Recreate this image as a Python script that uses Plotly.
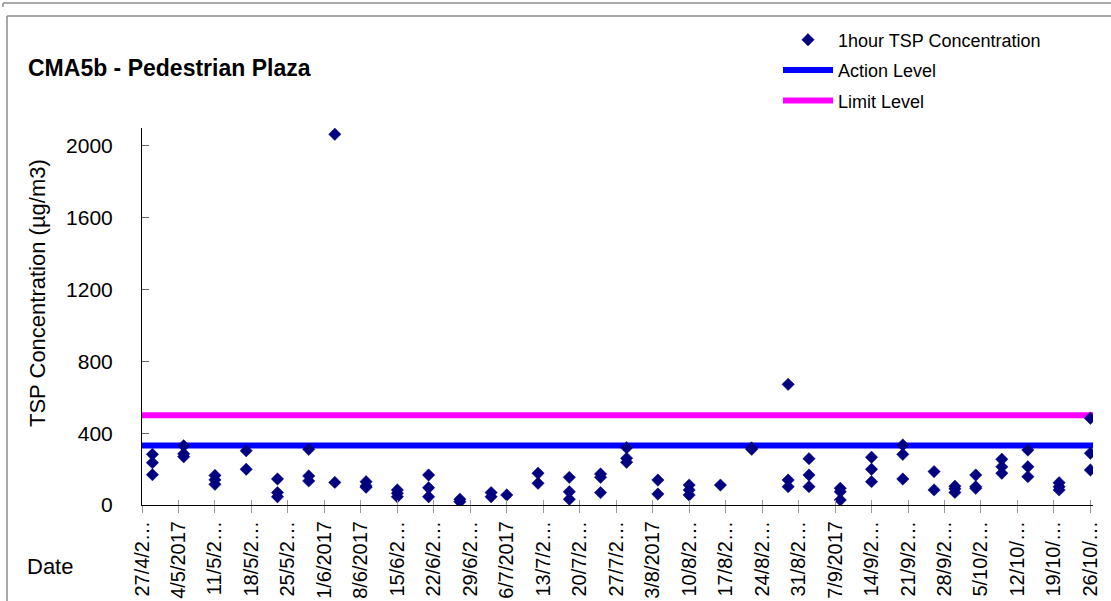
import plotly.graph_objects as go

# ---------------- data ----------------
visit_dates = [
    "2017-04-29", "2017-05-05", "2017-05-11", "2017-05-17", "2017-05-23",
    "2017-05-29", "2017-06-03", "2017-06-09", "2017-06-15", "2017-06-21",
    "2017-06-27", "2017-07-03", "2017-07-06", "2017-07-12", "2017-07-18",
    "2017-07-24", "2017-07-29", "2017-08-04", "2017-08-10", "2017-08-16",
    "2017-08-22", "2017-08-29", "2017-09-02", "2017-09-08", "2017-09-14",
    "2017-09-20", "2017-09-26", "2017-09-30", "2017-10-04", "2017-10-09",
    "2017-10-14", "2017-10-20", "2017-10-26",
]
readings = [
    [282, 236, 169], [330, 285, 269], [165, 140, 115], [302, 199], [145, 69, 46],
    [310, 162, 134], [2065, 126], [130, 106, 99], [84, 65, 46], [167, 96, 46],
    [32, 18], [69, 46], [56], [177, 121], [154, 74, 32],
    [173, 154, 69], [319, 260, 238], [139, 61], [111, 84, 56], [111],
    [318, 310], [672, 139, 102], [258, 167, 102], [93, 74, 28], [266, 199, 130],
    [334, 282, 145], [186, 84], [105, 90, 70], [167, 102, 93], [255, 213, 177],
    [306, 213, 158], [124, 102, 84], [483, 288, 195],
]
action_level = 331
limit_level = 500
level_dates = ["2017-04-27", "2017-10-26 12:00"]

tick_dates = [
    "2017-04-27", "2017-05-04", "2017-05-11", "2017-05-18", "2017-05-25",
    "2017-06-01", "2017-06-08", "2017-06-15", "2017-06-22", "2017-06-29",
    "2017-07-06", "2017-07-13", "2017-07-20", "2017-07-27", "2017-08-03",
    "2017-08-10", "2017-08-17", "2017-08-24", "2017-08-31", "2017-09-07",
    "2017-09-14", "2017-09-21", "2017-09-28", "2017-10-05", "2017-10-12",
    "2017-10-19", "2017-10-26",
]
tick_labels = [
    "27/4/2…", "4/5/2017", "11/5/2…", "18/5/2…", "25/5/2…",
    "1/6/2017", "8/6/2017", "15/6/2…", "22/6/2…", "29/6/2…",
    "6/7/2017", "13/7/2…", "20/7/2…", "27/7/2…", "3/8/2017",
    "10/8/2…", "17/8/2…", "24/8/2…", "31/8/2…", "7/9/2017",
    "14/9/2…", "21/9/2…", "28/9/2…", "5/10/2…", "12/10/…",
    "19/10/…", "26/10/…",
]
y_ticks = [0, 400, 800, 1200, 1600, 2000]

# ---------------- layout geometry ----------------
W, H = 1111, 601
ML, MR, MT, MB = 142, 18, 128, 96
PW, PH = W - ML - MR, H - MT - MB


def px_x(sx):
    return (sx - ML) / PW


def px_y(sy):
    return (H - MB - sy) / PH


FONT = "Arial, 'Liberation Sans', sans-serif"

pt_x = [d for d, vals in zip(visit_dates, readings) for _ in vals]
pt_y = [v for vals in readings for v in vals]

fig = go.Figure()
fig.add_trace(go.Scatter(
    x=level_dates, y=[action_level] * len(level_dates), mode="lines",
    name="Action Level", line=dict(color="#0000FF", width=6),
    legendgroup="b", legendrank=2, hoverinfo="skip",
))
fig.add_trace(go.Scatter(
    x=level_dates, y=[limit_level] * len(level_dates), mode="lines",
    name="Limit Level", line=dict(color="#FF00FF", width=6),
    legendgroup="c", legendrank=3, hoverinfo="skip",
))
fig.add_trace(go.Scatter(
    x=pt_x, y=pt_y, mode="markers", name="1hour TSP Concentration",
    marker=dict(symbol="diamond", size=9.5, color="#000080",
                line=dict(color="#000080", width=0.5)),
    legendgroup="a", legendrank=1,
))
# invisible trace for the second x axis (cross ticks)
fig.add_trace(go.Scatter(x=level_dates, y=[None, None], xaxis="x2",
                         showlegend=False, hoverinfo="skip"))

fig.update_layout(
    template="none",
    width=W, height=H,
    margin=dict(l=ML, r=MR, t=MT, b=MB, autoexpand=False),
    paper_bgcolor="white", plot_bgcolor="white",
    font=dict(family=FONT, color="black", size=20),
    showlegend=True,
    legend=dict(
        x=px_x(778), y=px_y(21.5), xanchor="left", yanchor="top",
        font=dict(family=FONT, size=18, color="black"),
        itemwidth=50, tracegroupgap=4, bgcolor="rgba(0,0,0,0)",
        traceorder="grouped",
    ),
    xaxis=dict(
        type="date", range=level_dates, automargin=False,
        tickmode="array", tickvals=tick_dates, ticktext=tick_labels,
        tickangle=-90, tickfont=dict(size=20, family=FONT, color="black"),
        ticks="outside", ticklen=7, tickcolor="#9a9a9a", tickwidth=1,
        showline=True, linecolor="black", linewidth=1,
        showgrid=False, zeroline=False,
    ),
    xaxis2=dict(
        type="date", range=level_dates, overlaying="x", side="bottom",
        automargin=False,
        tickmode="array", tickvals=tick_dates, showticklabels=False,
        ticks="inside", ticklen=5, tickcolor="#9a9a9a", tickwidth=1,
        showline=False, showgrid=False, zeroline=False,
    ),
    yaxis=dict(
        range=[0, 2100], tickmode="array", tickvals=y_ticks, automargin=False,
        ticks="inside", ticklen=7, tickcolor="#666666", tickwidth=1,
        tickfont=dict(size=21, family=FONT, color="black"),
        ticklabelstandoff=24,
        showline=True, linecolor="black", linewidth=1,
        showgrid=False, zeroline=False,
    ),
)

annotations = [
    dict(text="<b>CMA5b - Pedestrian Plaza</b>", x=px_x(26), y=px_y(68),
         xanchor="left", yanchor="middle",
         font=dict(size=23, family=FONT, color="black")),
    dict(text="TSP Concentration (µg/m3)", x=px_x(37), y=px_y(293),
         xanchor="center", yanchor="middle", textangle=-90,
         font=dict(size=22, family=FONT, color="black")),
    dict(text="Date", x=px_x(25), y=px_y(566), xanchor="left", yanchor="middle",
         font=dict(size=22, family=FONT, color="black")),
]
for a in annotations:
    a.update(xref="paper", yref="paper", showarrow=False)
fig.update_layout(annotations=annotations)

frame = dict(color="#8c8c8c", width=1.5)
shapes = [
    dict(type="line", x0=px_x(3), x1=px_x(1111), y0=px_y(3), y1=px_y(3), line=frame),
    dict(type="line", x0=px_x(3), x1=px_x(3), y0=px_y(3), y1=px_y(7), line=frame),
    dict(type="line", x0=px_x(7), x1=px_x(1111), y0=px_y(16), y1=px_y(16), line=frame),
    dict(type="line", x0=px_x(7), x1=px_x(7), y0=px_y(16), y1=px_y(601), line=frame),
]
for s in shapes:
    s.update(xref="paper", yref="paper", layer="below")
fig.update_layout(shapes=shapes)

fig.write_html(
    "out.html",
    config={"displayModeBar": False},
    post_script="document.body.style.margin='0';document.body.style.overflow='hidden';",
)
